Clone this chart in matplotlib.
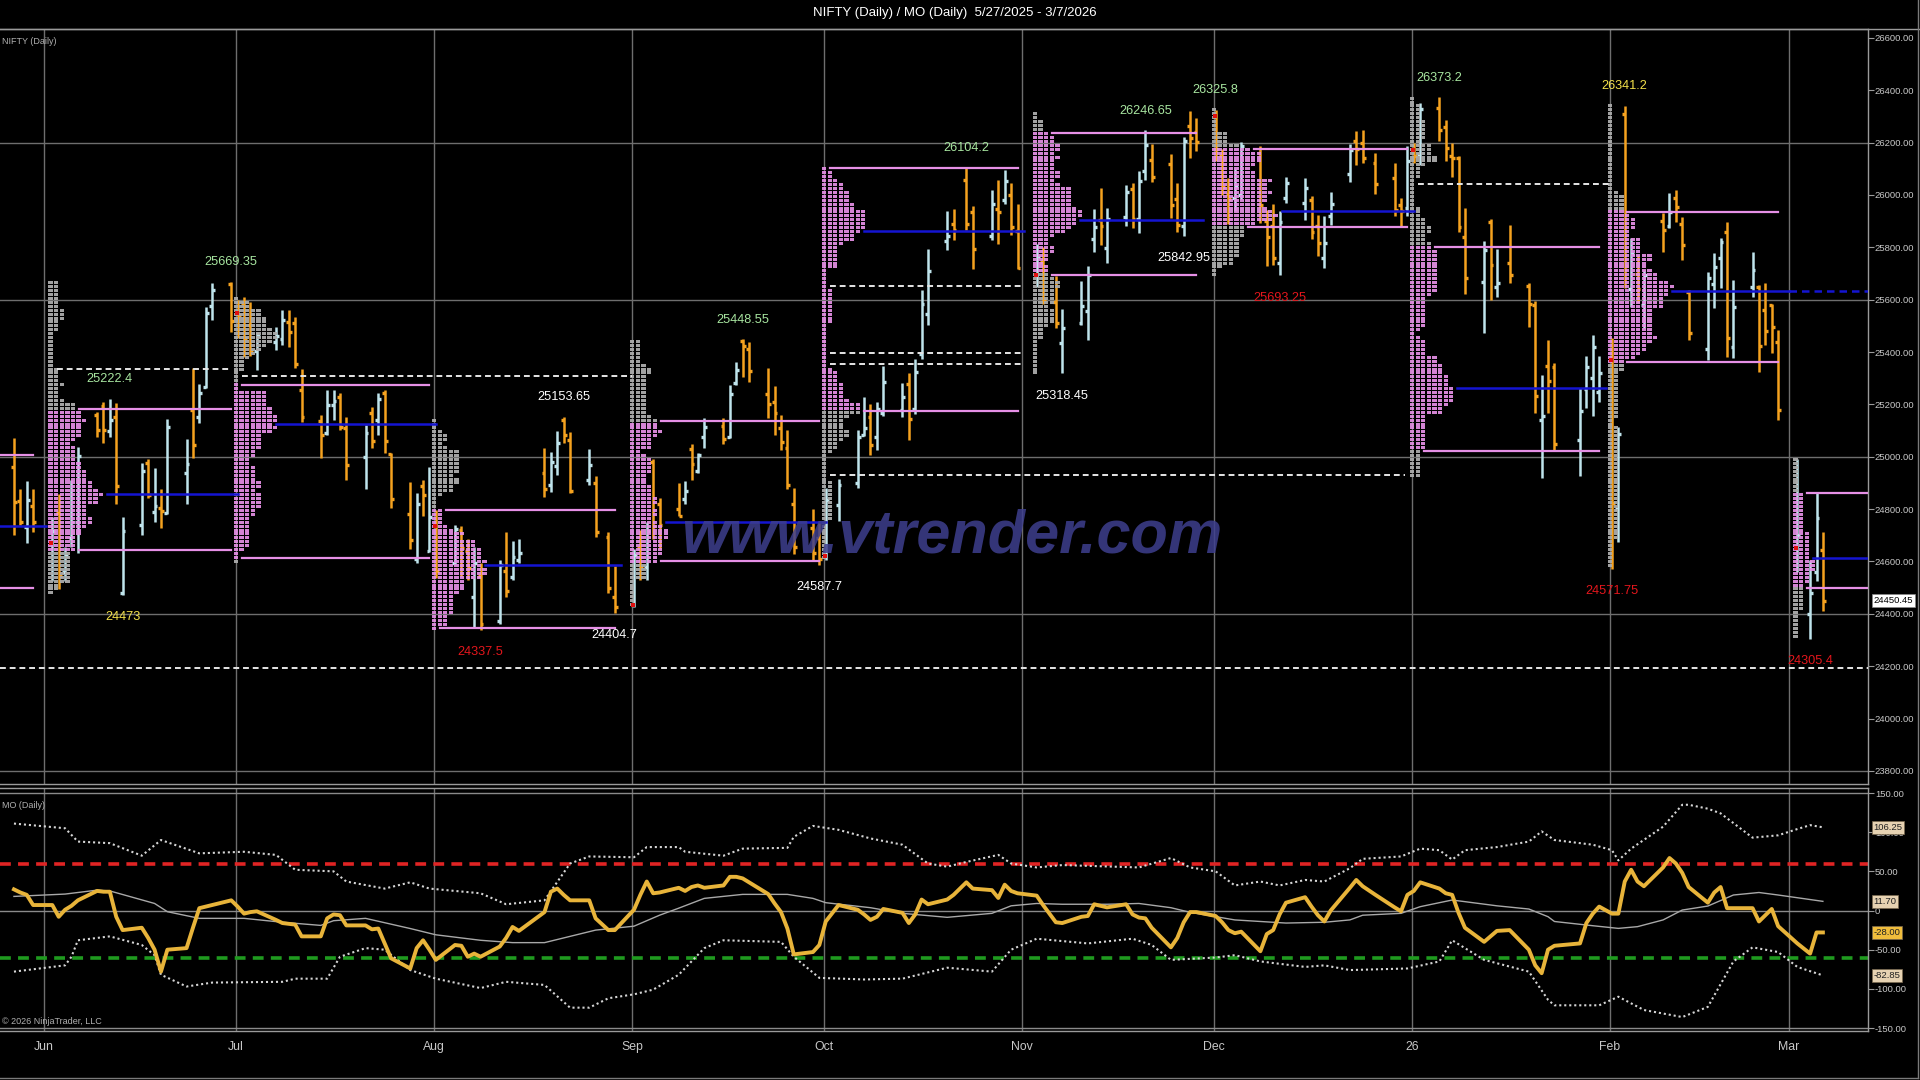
import datetime as dt
import numpy as np
import matplotlib
matplotlib.use("Agg")
import matplotlib.pyplot as plt
import matplotlib.dates as mdates
from matplotlib.collections import LineCollection, PolyCollection
from matplotlib.lines import Line2D
import matplotlib.transforms as mtransforms

# ---------------- data: (date, open, high, low, close, MO) ----------------
BARS_MAY25 = [
    ("2025-05-27", 24960, 25073, 24703, 24826, 27),
    ("2025-05-28", 24832, 24875, 24741, 24752, 23),
    ("2025-05-29", 24730, 24906, 24672, 24833, 20),
    ("2025-05-30", 24812, 24875, 24714, 24751, 7),
]
BARS_JUN25 = [
    ("2025-06-02", 24670, 24768, 24524, 24716, 7),
    ("2025-06-03", 24786, 24856, 24493, 24543, -8),
    ("2025-06-04", 24560, 24657, 24524, 24620, 1),
    ("2025-06-05", 24691, 24913, 24657, 24751, 6),
    ("2025-06-06", 24749, 25039, 24634, 25003, 13),
    ("2025-06-09", 25160, 25172, 25077, 25103, 25),
    ("2025-06-10", 25195, 25211, 25054, 25104, 24),
    ("2025-06-11", 25100, 25222.4, 25077, 25141, 24),
    ("2025-06-12", 25150, 25207, 24818, 24888, -8),
    ("2025-06-13", 24480, 24768, 24473, 24718, -25),
    ("2025-06-16", 24740, 24977, 24703, 24946, -22),
    ("2025-06-17", 24977, 24992, 24844, 24853, -35),
    ("2025-06-18", 24790, 24958, 24749, 24812, -50),
    ("2025-06-19", 24803, 24875, 24729, 24793, -78),
    ("2025-06-20", 24787, 25145, 24780, 25112, -50),
    ("2025-06-23", 24939, 25069, 24818, 24972, -48),
    ("2025-06-24", 25179, 25340, 24997, 25044, -22),
    ("2025-06-25", 25150, 25279, 25130, 25245, 3),
    ("2025-06-26", 25268, 25573, 25264, 25549, 5),
    ("2025-06-27", 25576, 25665, 25524, 25637, 7),
    ("2025-06-30", 25661, 25669.35, 25478, 25517, 13),
]
BARS_JUL25 = [
    ("2025-07-01", 25551, 25600, 25455, 25541, 5),
    ("2025-07-02", 25588, 25610, 25380, 25453, -4),
    ("2025-07-03", 25505, 25590, 25385, 25405, -2),
    ("2025-07-04", 25405, 25478, 25333, 25461, -1),
    ("2025-07-07", 25440, 25497, 25409, 25461, -12),
    ("2025-07-08", 25450, 25562, 25428, 25523, -16),
    ("2025-07-09", 25514, 25562, 25421, 25476, -17),
    ("2025-07-10", 25511, 25535, 25340, 25355, -18),
    ("2025-07-11", 25255, 25337, 25134, 25150, -33),
    ("2025-07-14", 25135, 25161, 24997, 25082, -33),
    ("2025-07-15", 25089, 25256, 25085, 25196, -10),
    ("2025-07-16", 25196, 25256, 25142, 25212, -5),
    ("2025-07-17", 25230, 25245, 25104, 25112, -6),
    ("2025-07-18", 25109, 25153, 24913, 24968, -19),
    ("2025-07-21", 24999, 25123, 24875, 25091, -19),
    ("2025-07-22", 25166, 25192, 25035, 25061, -24),
    ("2025-07-23", 25139, 25245, 25085, 25220, -23),
    ("2025-07-24", 25243, 25256, 25016, 25062, -42),
    ("2025-07-25", 25010, 25016, 24806, 24837, -61),
    ("2025-07-28", 24782, 24902, 24646, 24681, -74),
    ("2025-07-29", 24609, 24863, 24596, 24821, -48),
    ("2025-07-30", 24890, 24913, 24772, 24855, -38),
    ("2025-07-31", 24640, 24962, 24635, 24768, -50),
]
BARS_AUG25 = [
    ("2025-08-01", 24735, 24798, 24535, 24565, -63),
    ("2025-08-04", 24596, 24740, 24590, 24723, -44),
    ("2025-08-05", 24720, 24734, 24543, 24650, -45),
    ("2025-08-06", 24641, 24684, 24531, 24574, -59),
    ("2025-08-07", 24464, 24657, 24348, 24596, -55),
    ("2025-08-08", 24544, 24596, 24337.5, 24363, -59),
    ("2025-08-11", 24372, 24607, 24360, 24585, -46),
    ("2025-08-12", 24563, 24711, 24466, 24487, -35),
    ("2025-08-13", 24540, 24677, 24531, 24619, -21),
    ("2025-08-14", 24607, 24684, 24596, 24631, -26),
    ("2025-08-18", 24938, 25035, 24848, 24877, -2),
    ("2025-08-19", 24891, 25020, 24867, 24980, 24),
    ("2025-08-20", 24965, 25100, 24932, 25051, 28),
    ("2025-08-21", 25142, 25153.65, 25054, 25084, 20),
    ("2025-08-22", 25064, 25093, 24863, 24870, 13),
    ("2025-08-25", 24910, 25031, 24894, 24968, 13),
    ("2025-08-26", 24899, 24928, 24692, 24712, -10),
    ("2025-08-28", 24695, 24711, 24481, 24500, -25),
    ("2025-08-29", 24466, 24581, 24404.7, 24427, -25),
]
BARS_SEP25 = [
    ("2025-09-01", 24432, 24646, 24428, 24625, 1),
    ("2025-09-02", 24653, 24722, 24531, 24580, 20),
    ("2025-09-03", 24579, 24749, 24531, 24716, 37),
    ("2025-09-04", 24980, 24992, 24684, 24734, 22),
    ("2025-09-05", 24818, 24844, 24646, 24741, 23),
    ("2025-09-08", 24802, 24898, 24772, 24773, 29),
    ("2025-09-09", 24840, 24906, 24818, 24869, 25),
    ("2025-09-10", 25030, 25047, 24913, 24973, 30),
    ("2025-09-11", 24945, 25016, 24939, 25005, 32),
    ("2025-09-12", 25074, 25149, 25035, 25114, 29),
    ("2025-09-15", 25118, 25149, 25047, 25069, 32),
    ("2025-09-16", 25074, 25275, 25073, 25239, 43),
    ("2025-09-17", 25280, 25363, 25275, 25330, 43),
    ("2025-09-18", 25441, 25448.55, 25306, 25423, 41),
    ("2025-09-19", 25410, 25440, 25287, 25327, 36),
    ("2025-09-22", 25238, 25340, 25149, 25202, 21),
    ("2025-09-23", 25210, 25272, 25085, 25169, 9),
    ("2025-09-24", 25108, 25161, 25027, 25056, -2),
    ("2025-09-25", 25034, 25104, 24875, 24891, -23),
    ("2025-09-26", 24818, 24882, 24627, 24654, -56),
    ("2025-09-29", 24728, 24802, 24600, 24634, -53),
    ("2025-09-30", 24691, 24756, 24587.7, 24611, -44),
]
BARS_OCT25 = [
    ("2025-10-01", 24620, 24881, 24605, 24836, -14),
    ("2025-10-03", 24815, 24914, 24756, 24894, 7),
    ("2025-10-06", 24900, 25104, 24881, 25077, 1),
    ("2025-10-07", 25085, 25229, 25078, 25108, -5),
    ("2025-10-08", 25150, 25203, 25006, 25046, -12),
    ("2025-10-09", 25074, 25210, 25026, 25181, -8),
    ("2025-10-10", 25167, 25348, 25157, 25285, 2),
    ("2025-10-13", 25180, 25282, 25150, 25227, -3),
    ("2025-10-14", 25277, 25321, 25065, 25145, -16),
    ("2025-10-15", 25182, 25374, 25164, 25324, -5),
    ("2025-10-16", 25394, 25637, 25374, 25585, 14),
    ("2025-10-17", 25546, 25795, 25505, 25710, 8),
    ("2025-10-20", 25824, 25939, 25788, 25843, 14),
    ("2025-10-21", 25890, 25946, 25827, 25868, 20),
    ("2025-10-23", 26057, 26104.2, 25867, 25891, 36),
    ("2025-10-24", 25935, 25959, 25716, 25795, 28),
    ("2025-10-27", 25843, 26018, 25827, 25966, 26),
    ("2025-10-28", 25945, 26057, 25814, 25936, 16),
    ("2025-10-29", 25982, 26095, 25965, 26054, 33),
    ("2025-10-30", 26000, 26044, 25847, 25878, 25),
    ("2025-10-31", 25864, 25965, 25716, 25722, 22),
]
BARS_NOV25 = [
    ("2025-11-03", 25696, 25814, 25650, 25763, 19),
    ("2025-11-04", 25744, 25801, 25584, 25598, 7),
    ("2025-11-06", 25593, 25689, 25492, 25510, -15),
    ("2025-11-07", 25434, 25565, 25318.45, 25492, -16),
    ("2025-11-10", 25510, 25670, 25505, 25574, -8),
    ("2025-11-11", 25555, 25729, 25446, 25695, -7),
    ("2025-11-12", 25832, 25946, 25781, 25876, 8),
    ("2025-11-13", 25906, 26025, 25808, 25880, 6),
    ("2025-11-14", 25797, 25952, 25742, 25910, 4),
    ("2025-11-17", 25915, 26038, 25880, 26013, 8),
    ("2025-11-18", 26022, 26044, 25873, 25910, -5),
    ("2025-11-19", 25908, 26090, 25854, 26052, -9),
    ("2025-11-20", 26090, 26246.65, 26057, 26192, -10),
    ("2025-11-21", 26133, 26195, 26051, 26068, -22),
    ("2025-11-24", 26120, 26156, 25913, 25960, -47),
    ("2025-11-25", 25985, 26044, 25860, 25885, -35),
    ("2025-11-26", 25880, 26222, 25842.95, 26205, -15),
    ("2025-11-27", 26262, 26320, 26143, 26216, -2),
    ("2025-11-28", 26240, 26294, 26169, 26203, -2),
]
BARS_DEC25 = [
    ("2025-12-01", 26300, 26325.8, 26130, 26176, -7),
    ("2025-12-02", 26150, 26174, 25998, 26032, -15),
    ("2025-12-03", 26005, 26066, 25891, 25986, -25),
    ("2025-12-04", 25990, 26098, 25938, 26034, -29),
    ("2025-12-05", 26000, 26202, 25985, 26186, -27),
    ("2025-12-08", 26160, 26187, 25892, 25961, -52),
    ("2025-12-09", 25900, 25944, 25727, 25840, -30),
    ("2025-12-10", 25880, 25964, 25734, 25758, -25),
    ("2025-12-11", 25740, 25938, 25693.25, 25898, -5),
    ("2025-12-12", 25990, 26069, 25971, 26047, 10),
    ("2025-12-15", 25970, 26063, 25905, 26027, 17),
    ("2025-12-16", 25980, 25997, 25833, 25860, 5),
    ("2025-12-17", 25880, 25924, 25767, 25818, -6),
    ("2025-12-18", 25760, 25918, 25721, 25815, -14),
    ("2025-12-19", 25920, 26010, 25885, 25966, 0),
    ("2025-12-22", 26080, 26194, 26049, 26172, 29),
    ("2025-12-23", 26205, 26243, 26115, 26177, 39),
    ("2025-12-24", 26200, 26247, 26122, 26142, 31),
    ("2025-12-26", 26121, 26161, 26003, 26042, 20),
    ("2025-12-29", 26063, 26122, 25918, 25942, 4),
    ("2025-12-30", 25960, 25990, 25878, 25938, -1),
    ("2025-12-31", 25950, 26187, 25920, 26130, 20),
]
BARS_JAN26 = [
    ("2026-01-01", 26173, 26200, 26122, 26147, 25),
    ("2026-01-02", 26155, 26352, 26115, 26328, 36),
    ("2026-01-05", 26333, 26373.2, 26207, 26250, 28),
    ("2026-01-06", 26260, 26286, 26128, 26178, 22),
    ("2026-01-07", 26150, 26200, 26069, 26140, 20),
    ("2026-01-08", 26140, 26148, 25859, 25877, -3),
    ("2026-01-09", 25840, 25951, 25622, 25683, -22),
    ("2026-01-12", 25669, 25826, 25471, 25790, -40),
    ("2026-01-13", 25897, 25909, 25600, 25732, -33),
    ("2026-01-14", 25648, 25793, 25609, 25665, -26),
    ("2026-01-16", 25740, 25885, 25662, 25694, -25),
    ("2026-01-19", 25653, 25664, 25497, 25585, -50),
    ("2026-01-20", 25580, 25596, 25169, 25232, -70),
    ("2026-01-21", 25141, 25313, 24919, 25157, -80),
    ("2026-01-22", 25345, 25445, 25169, 25290, -50),
    ("2026-01-23", 25344, 25359, 25024, 25048, -45),
    ("2026-01-27", 25063, 25261, 24926, 25175, -42),
    ("2026-01-28", 25258, 25386, 25188, 25342, -16),
    ("2026-01-29", 25300, 25464, 25156, 25418, -4),
    ("2026-01-30", 25247, 25386, 25208, 25320, 5),
]
BARS_FEB26 = [
    ("2026-02-01", 25370, 25455, 24571.75, 24825, -4),
    ("2026-02-02", 24800, 25115, 24676, 25088, -4),
    ("2026-02-03", 26308, 26341.2, 25646, 25727, 37),
    ("2026-02-04", 25640, 25837, 25573, 25776, 52),
    ("2026-02-05", 25700, 25772, 25588, 25642, 37),
    ("2026-02-06", 25580, 25715, 25493, 25693, 31),
    ("2026-02-09", 25900, 25932, 25783, 25867, 55),
    ("2026-02-10", 25880, 26008, 25875, 25935, 67),
    ("2026-02-11", 25990, 26020, 25898, 25953, 60),
    ("2026-02-12", 25890, 25917, 25752, 25807, 48),
    ("2026-02-13", 25630, 25638, 25447, 25471, 30),
    ("2026-02-16", 25410, 25707, 25371, 25682, 10),
    ("2026-02-17", 25660, 25779, 25570, 25725, 23),
    ("2026-02-18", 25760, 25837, 25646, 25819, 30),
    ("2026-02-19", 25860, 25898, 25382, 25454, 3),
    ("2026-02-20", 25420, 25676, 25378, 25571, 3),
    ("2026-02-23", 25650, 25783, 25611, 25713, 3),
    ("2026-02-24", 25650, 25657, 25325, 25425, -14),
    ("2026-02-25", 25560, 25665, 25428, 25480, -6),
    ("2026-02-26", 25580, 25585, 25398, 25497, 2),
    ("2026-02-27", 25440, 25486, 25142, 25178, -20),
]
BARS_MAR26 = [
    ("2026-03-02", 24650, 24990, 24560, 24700, -42),
    ("2026-03-04", 24400, 24607, 24305.4, 24480, -55),
    ("2026-03-05", 24560, 24863, 24524, 24765, -28),
    ("2026-03-06", 24645, 24711, 24409, 24450.45, -28),
]

# MO smoothing line and envelope bands, read at sample dates
MO_MID = [("2025-05-27", 18), ("2025-06-04", 21), ("2025-06-09", 26), ("2025-06-11", 25),
          ("2025-06-18", 9), ("2025-06-20", -1.5), ("2025-06-25", -10), ("2025-07-02", -10),
          ("2025-07-08", -15), ("2025-07-14", -19), ("2025-07-16", -13), ("2025-07-21", -10),
          ("2025-07-28", -23), ("2025-08-01", -31), ("2025-08-08", -38), ("2025-08-13", -41),
          ("2025-08-18", -41), ("2025-08-22", -33), ("2025-08-26", -25), ("2025-09-01", -20),
          ("2025-09-03", -13), ("2025-09-05", -6), ("2025-09-08", 3), ("2025-09-12", 15.5),
          ("2025-09-18", 20.6), ("2025-09-25", 20.6), ("2025-09-29", 15.5), ("2025-10-01", 10),
          ("2025-10-08", 3.6), ("2025-10-13", -3.6), ("2025-10-20", -8.7), ("2025-10-27", -3.6),
          ("2025-10-30", 6), ("2025-11-03", 9), ("2025-11-07", 8), ("2025-11-14", 8),
          ("2025-11-19", 9), ("2025-11-24", 3.6), ("2025-11-27", -2.3), ("2025-12-04", -12),
          ("2025-12-08", -14), ("2025-12-12", -16), ("2025-12-18", -15), ("2025-12-22", -12),
          ("2025-12-24", -6), ("2025-12-30", -3.6), ("2026-01-02", 4.9), ("2026-01-07", 13.4),
          ("2026-01-09", 11.3), ("2026-01-14", 6), ("2026-01-19", 1.9), ("2026-01-22", -7.9),
          ("2026-01-23", -14), ("2026-01-29", -19.4), ("2026-02-02", -22.8), ("2026-02-05", -20.6),
          ("2026-02-09", -12), ("2026-02-12", 0.6), ("2026-02-16", 5.7), ("2026-02-20", 19.8),
          ("2026-02-24", 23), ("2026-02-27", 19.8), ("2026-03-06", 11.7)]
MO_UPPER = [("2025-05-27", 111), ("2025-06-04", 105), ("2025-06-06", 88), ("2025-06-11", 86),
            ("2025-06-16", 70), ("2025-06-19", 90), ("2025-06-25", 73), ("2025-07-02", 75),
            ("2025-07-07", 71), ("2025-07-10", 52), ("2025-07-16", 50), ("2025-07-18", 37),
            ("2025-07-24", 28), ("2025-07-28", 36), ("2025-07-31", 28), ("2025-08-08", 22),
            ("2025-08-12", 8), ("2025-08-18", 13), ("2025-08-22", 60), ("2025-08-25", 69),
            ("2025-09-01", 68), ("2025-09-03", 81), ("2025-09-08", 81), ("2025-09-09", 75),
            ("2025-09-15", 70), ("2025-09-18", 79), ("2025-09-25", 80), ("2025-09-26", 94),
            ("2025-09-29", 108), ("2025-10-03", 103), ("2025-10-08", 92), ("2025-10-13", 84),
            ("2025-10-17", 60), ("2025-10-20", 56), ("2025-10-23", 62), ("2025-10-28", 71),
            ("2025-10-30", 60), ("2025-11-03", 55), ("2025-11-07", 58), ("2025-11-19", 55),
            ("2025-11-24", 67), ("2025-11-27", 55), ("2025-12-01", 50), ("2025-12-04", 32),
            ("2025-12-08", 37), ("2025-12-11", 32), ("2025-12-15", 39), ("2025-12-18", 37),
            ("2025-12-22", 54), ("2025-12-24", 66), ("2025-12-30", 69), ("2026-01-02", 79),
            ("2026-01-05", 77), ("2026-01-07", 65), ("2026-01-09", 77), ("2026-01-14", 81),
            ("2026-01-19", 88), ("2026-01-21", 101), ("2026-01-23", 90), ("2026-01-29", 84),
            ("2026-02-01", 77), ("2026-02-02", 64), ("2026-02-04", 79), ("2026-02-09", 107),
            ("2026-02-12", 135), ("2026-02-13", 135), ("2026-02-16", 130), ("2026-02-18", 124),
            ("2026-02-23", 93), ("2026-02-27", 96), ("2026-03-02", 104), ("2026-03-04", 109),
            ("2026-03-06", 106.25)]
MO_LOWER = [("2025-05-27", -78), ("2025-06-04", -70), ("2025-06-05", -59), ("2025-06-06", -38),
            ("2025-06-11", -33), ("2025-06-16", -44), ("2025-06-18", -57), ("2025-06-19", -82),
            ("2025-06-23", -97), ("2025-06-27", -92), ("2025-07-08", -91), ("2025-07-10", -87),
            ("2025-07-15", -87), ("2025-07-17", -59), ("2025-07-21", -48), ("2025-07-24", -50),
            ("2025-07-28", -76), ("2025-08-01", -87), ("2025-08-08", -99), ("2025-08-12", -91),
            ("2025-08-18", -95), ("2025-08-22", -124), ("2025-08-25", -124), ("2025-08-28", -112),
            ("2025-09-01", -107), ("2025-09-04", -101), ("2025-09-08", -82), ("2025-09-12", -48),
            ("2025-09-15", -38), ("2025-09-24", -40), ("2025-09-26", -59), ("2025-09-30", -86),
            ("2025-10-07", -88), ("2025-10-13", -87), ("2025-10-20", -73), ("2025-10-27", -78),
            ("2025-10-30", -50), ("2025-11-03", -36), ("2025-11-11", -42), ("2025-11-18", -36),
            ("2025-11-21", -44), ("2025-11-24", -63), ("2025-12-01", -60), ("2025-12-04", -57),
            ("2025-12-08", -65), ("2025-12-15", -72), ("2025-12-18", -70), ("2025-12-22", -76),
            ("2025-12-31", -74), ("2026-01-05", -65), ("2026-01-07", -38), ("2026-01-09", -48),
            ("2026-01-12", -63), ("2026-01-19", -78), ("2026-01-22", -114), ("2026-01-23", -121),
            ("2026-01-30", -121), ("2026-02-02", -110), ("2026-02-06", -127), ("2026-02-12", -136),
            ("2026-02-16", -123), ("2026-02-20", -65), ("2026-02-23", -47), ("2026-02-27", -53),
            ("2026-03-02", -72), ("2026-03-06", -82.85)]

# monthly profile levels (value area high, point of control, value area low)
LEVEL_MONTHS = ["2025-05", "2025-06", "2025-07", "2025-08", "2025-09", "2025-10",
                "2025-11", "2025-12", "2026-01", "2026-02", "2026-03"]
VAH_LEVELS = [25005, 25184, 25276, 24795, 25138, 26103, 26237, 26177, 25800, 25936, 24860]
POC_LEVELS = [24734, 24856, 25127, 24585, 24749, 25863, 25906, 25938, 25261, 25634, 24615]
VAL_LEVELS = [24497, 24642, 24615, 24344, 24600, 25173, 25696, 25876, 25021, 25363, 24497]

# dashed reference levels: (price, from, to)
DASHED_LEVELS = [(25337, "2025-06-03", "2025-06-30"),
                 (25307, "2025-07-02", "2025-09-01"),
                 (25652, "2025-10-02", "2025-11-01"),
                 (25398, "2025-10-02", "2025-11-01"),
                 (25354, "2025-10-02", "2025-11-01"),
                 (24930, "2025-10-02", "2025-12-31"),
                 (26043, "2026-01-02", "2026-02-01")]
FULL_DASHED_LEVEL = 24195

# annotated extremes: (date, "H"/"L", colour name)
EXTREMES = [("2025-06-11", "H", "green"), ("2025-06-13", "L", "yellow"),
            ("2025-06-30", "H", "green"), ("2025-08-21", "H", "white"),
            ("2025-08-08", "L", "red"), ("2025-08-29", "L", "white"),
            ("2025-09-18", "H", "green"), ("2025-09-30", "L", "white"),
            ("2025-10-23", "H", "green"), ("2025-11-07", "L", "white"),
            ("2025-11-20", "H", "green"), ("2025-11-26", "L", "white"),
            ("2025-12-01", "H", "green"), ("2025-12-11", "L", "red"),
            ("2026-01-05", "H", "green"), ("2026-02-03", "H", "yellow"),
            ("2026-02-01", "L", "red"), ("2026-03-04", "L", "red")]

MONTH_TICKS = ["2025-06-01", "2025-07-01", "2025-08-01", "2025-09-01", "2025-10-01",
               "2025-11-01", "2025-12-01", "2026-01-01", "2026-02-01", "2026-03-01"]
MONTH_LABELS = ["Jun", "Jul", "Aug", "Sep", "Oct", "Nov", "Dec", "26", "Feb", "Mar"]
PRICE_TICKS = list(range(23800, 26601, 200))
PRICE_GRID = [23800, 24400, 25000, 25600, 26200]
MO_TICKS = [150, 100, 50, 0, -50, -100, -150]
MO_BOUNDS = (60, -60)
LAST_MID, LAST_UPPER, LAST_LOWER = 11.70, 106.25, -82.85

# ---------------- style ----------------
BG = "black"
UP = "#bfe4ec"
DOWN = "#f5a21f"
PINK = "#e690e6"
GRAY_SQ = "#ababab"
GRID = "#6e6e6e"
TXT = "#c8c8c8"
LABEL_COLORS = {"green": "#a8e6a0", "yellow": "#f2e04a", "white": "#ffffff", "red": "#e4161c"}

plt.rcParams["font.family"] = ["Liberation Sans", "DejaVu Sans"]

W, H = 1920, 1080
PX_PER_DAY = 6.392


def dnum(s):
    return mdates.date2num(dt.datetime.strptime(s, "%Y-%m-%d"))


JUN1 = dnum("2025-06-01")
XL = JUN1 - 44 / PX_PER_DAY
XR = JUN1 + (1868 - 44) / PX_PER_DAY
BAR_SHIFT = 0.3
TICK = 0.45
SQ = 5.6 / PX_PER_DAY          # one TPO cell pitch (days)
CELL_W = 4.3 / PX_PER_DAY
BIN = 15                       # price rows of the profile
CELL_H = 11.5

ALL_MONTHS = [BARS_MAY25, BARS_JUN25, BARS_JUL25, BARS_AUG25, BARS_SEP25, BARS_OCT25,
              BARS_NOV25, BARS_DEC25, BARS_JAN26, BARS_FEB26, BARS_MAR26]
ALL = [b for m in ALL_MONTHS for b in m]

fig = plt.figure(figsize=(W / 100, H / 100), dpi=100, facecolor=BG)
ax = fig.add_axes([0, 1 - 784 / H, 1868 / W, (784 - 29) / H])
ax2 = fig.add_axes([0, 1 - 1031 / H, 1868 / W, (1031 - 788) / H])
for a in (ax, ax2):
    a.set_facecolor(BG)
    a.set_xlim(XL, XR)
    a.spines["left"].set_visible(False)
    for s in ("top", "right", "bottom"):
        a.spines[s].set_color("#9a9a9a")
        a.spines[s].set_linewidth(1.0)
    for t in MONTH_TICKS:
        a.axvline(dnum(t), color=GRID, lw=1.0, zorder=0.5)

ax.set_ylim(23750, 26634)
ax2.set_ylim(-153.8, 156.4)

# ---- price axis
ax.yaxis.tick_right()
ax.set_yticks(PRICE_TICKS)
ax.set_yticklabels([f"{v:.2f}" for v in PRICE_TICKS])
ax.tick_params(axis="y", colors="#9a9a9a", labelcolor=TXT, labelsize=6.8, length=4, width=0.8, pad=1)
ax.set_xticks([])
for g in PRICE_GRID:
    ax.axhline(g, color=GRID, lw=1.0, zorder=0.5)

# ---- OHLC bars
vsegs, vcols, tsegs, tcols = [], [], [], []
for d, o, h, l, c, m in ALL:
    x = dnum(d) + BAR_SHIFT
    col = UP if c >= o else DOWN
    vsegs.append([(x, l), (x, h)])
    vcols.append(col)
    tsegs += [[(x - TICK, o), (x, o)], [(x, c), (x + TICK, c)]]
    tcols += [col, col]
ax.add_collection(LineCollection(vsegs, colors=vcols, linewidths=1.8, capstyle="butt", zorder=2))
ax.add_collection(LineCollection(tsegs, colors=tcols, linewidths=2.4, capstyle="butt", zorder=2))


# ---- monthly TPO profiles and levels
def tpo_count(bars, p):
    return sum(1 for b in bars if b[3] <= p <= b[2])


pink_cells, gray_cells = [], []
for key, bars, vah, poc, val in zip(LEVEL_MONTHS, ALL_MONTHS, VAH_LEVELS, POC_LEVELS, VAL_LEVELS):
    last = dnum(bars[-1][0]) + BAR_SHIFT
    if key == "2025-05":
        ax.plot([XL, last], [vah, vah], color=PINK, lw=1.6, zorder=4)
        ax.plot([XL, last], [val, val], color=PINK, lw=1.6, zorder=4)
        ax.plot([XL, last + 2.0], [poc, poc], color="#1414d2", lw=1.8, zorder=4)
        continue
    start = dnum(bars[0][0]) - 0.3
    lo = min(b[3] for b in bars)
    hi = max(b[2] for b in bars)
    for p in np.arange(np.ceil(lo / BIN) * BIN, hi + 0.01, BIN):
        n = tpo_count(bars, p)
        target = pink_cells if val <= p <= vah else gray_cells
        for k in range(n):
            x0 = start + k * SQ
            target.append([(x0, p - CELL_H / 2), (x0 + CELL_W, p - CELL_H / 2),
                           (x0 + CELL_W, p + CELL_H / 2), (x0, p + CELL_H / 2)])
    ax.scatter([start + 0.5 * SQ], [bars[0][1]], s=9, marker="s", color="#e01010", zorder=5, linewidths=0)
    x_vah = start + tpo_count(bars, vah) * SQ + 0.4
    x_val = start + tpo_count(bars, val) * SQ + 0.4
    x_poc = start + tpo_count(bars, poc) * SQ + 0.4
    end_va = XR if key == "2026-03" else last
    end_poc = XR if key in ("2026-03", "2026-02") else last + 1.0
    ax.plot([x_vah, end_va], [vah, vah], color=PINK, lw=1.6, zorder=4)
    ax.plot([x_val, end_va], [val, val], color=PINK, lw=1.6, zorder=4)
    if key == "2026-02":
        split = dnum("2026-03-01")
        ax.plot([x_poc, split], [poc, poc], color="#1414d2", lw=1.8, zorder=4)
        ax.plot([split, end_poc], [poc, poc], color="#1414d2", lw=1.8, ls=(0, (3, 2)), zorder=4)
    else:
        ax.plot([x_poc, end_poc], [poc, poc], color="#1414d2", lw=1.8, zorder=4)

ax.add_collection(PolyCollection(gray_cells, facecolors=GRAY_SQ, edgecolors="none", alpha=0.95, zorder=3))
ax.add_collection(PolyCollection(pink_cells, facecolors=PINK, edgecolors="none", alpha=0.92, zorder=3))

# ---- dashed reference levels
for price, a, b in DASHED_LEVELS:
    ax.plot([dnum(a), dnum(b)], [price, price], color="#e6e6e6", lw=1.4, ls=(0, (3, 2)), zorder=4)
ax.plot([XL, XR], [FULL_DASHED_LEVEL] * 2, color="#e6e6e6", lw=1.4, ls=(0, (3, 2)), zorder=4)

# ---- high / low annotations
by_date = {b[0]: b for b in ALL}
for d, kind, cname in EXTREMES:
    b = by_date[d]
    v = b[2] if kind == "H" else b[3]
    txt = f"{v:.2f}".rstrip("0").rstrip(".")
    off = 14 if kind == "H" else -16
    ax.annotate(txt, (dnum(d) + BAR_SHIFT, v), xytext=(0, off), textcoords="offset points",
                ha="center", va="center", color=LABEL_COLORS[cname], fontsize=9.2, zorder=7)

# ---- last price tag
last_close = ALL[-1][4]
blend = mtransforms.blended_transform_factory(ax.transAxes, ax.transData)
ax.text(1.003, last_close, f"{last_close:.2f}", transform=blend, ha="left", va="center",
        fontsize=6.8, color="black", zorder=8,
        bbox=dict(boxstyle="square,pad=0.18", fc="white", ec="#888888", lw=0.5), clip_on=False)

# ---- watermark
ax.text(0.5096, 0.327, "www.vtrender.com", transform=ax.transAxes, ha="center", va="center",
        fontsize=44, fontstyle="italic", fontweight="bold", color="#3e3f8e", alpha=0.85,
        family=["Liberation Sans", "DejaVu Sans"], zorder=6)

# ---- MO panel
xs = [dnum(b[0]) + BAR_SHIFT for b in ALL]
mo = [b[5] for b in ALL]
for series, kw in ((MO_UPPER, dict(color="#d6d6d6", lw=1.5, ls=(0, (1, 1.4)))),
                   (MO_LOWER, dict(color="#d6d6d6", lw=1.5, ls=(0, (1, 1.4)))),
                   (MO_MID, dict(color="#a8a8a8", lw=1.0, ls="-"))):
    ax2.plot([dnum(d) + BAR_SHIFT for d, v in series], [v for d, v in series], zorder=3, **kw)
ax2.axhline(MO_BOUNDS[0], color="#e02424", lw=2.6, ls=(0, (3, 2)), zorder=2)
ax2.axhline(MO_BOUNDS[1], color="#1f9a1f", lw=2.6, ls=(0, (3, 2)), zorder=2)
for g in (150, 0, -150):
    ax2.axhline(g, color="#8a8a8a", lw=1.0, zorder=1)
ax2.plot(xs, mo, color="#e8b43a", lw=2.8, solid_joinstyle="round", zorder=4)

ax2.yaxis.tick_right()
ax2.set_yticks(MO_TICKS)
ax2.set_yticklabels(["0" if v == 0 else f"{v:.2f}" for v in MO_TICKS])
ax2.tick_params(axis="y", colors="#9a9a9a", labelcolor=TXT, labelsize=6.8, length=4, width=0.8, pad=1)
ax2.set_xticks([dnum(t) for t in MONTH_TICKS])
ax2.set_xticklabels(MONTH_LABELS)
ax2.tick_params(axis="x", colors=TXT, labelsize=8.8, length=0, pad=7)

blend2 = mtransforms.blended_transform_factory(ax2.transAxes, ax2.transData)
for val, fc in ((LAST_UPPER, "#e6d2b2"), (LAST_MID, "#e6d2b2"), (mo[-1], "#f0bd3c"), (LAST_LOWER, "#e6d2b2")):
    ax2.text(1.003, val, f"{val:.2f}", transform=blend2, ha="left", va="center", fontsize=6.8,
             color="#202020", zorder=8, clip_on=False,
             bbox=dict(boxstyle="square,pad=0.2", fc=fc, ec="#7a6a50", lw=0.5))

# ---- titles and captions
fig.text(0.4974, 1 - 13 / H, "NIFTY (Daily) / MO (Daily)  5/27/2025 - 3/7/2026",
         ha="center", va="center", color="white", fontsize=9.5)
fig.text(2 / W, 1 - 42 / H, "NIFTY (Daily)", ha="left", va="center", color="#b0b0b0", fontsize=6.5)
fig.text(2 / W, 1 - 805 / H, "MO (Daily)", ha="left", va="center", color="#b0b0b0", fontsize=6.5)
fig.text(2 / W, 1 - 1022 / H, "\u00a9 2026 NinjaTrader, LLC", ha="left", va="center",
         color="#b0b0b0", fontsize=6.5)
fig.add_artist(Line2D([0, 1], [1 - 29 / H] * 2, color="#9a9a9a", lw=1.0, transform=fig.transFigure))
fig.add_artist(Line2D([1918 / W] * 2, [0.002, 1], color="#7a7a7a", lw=1.0, transform=fig.transFigure))
fig.add_artist(Line2D([0, 1918 / W], [2 / H] * 2, color="#7a7a7a", lw=1.0, transform=fig.transFigure))

fig.savefig("out.png", dpi=100, facecolor=BG)
